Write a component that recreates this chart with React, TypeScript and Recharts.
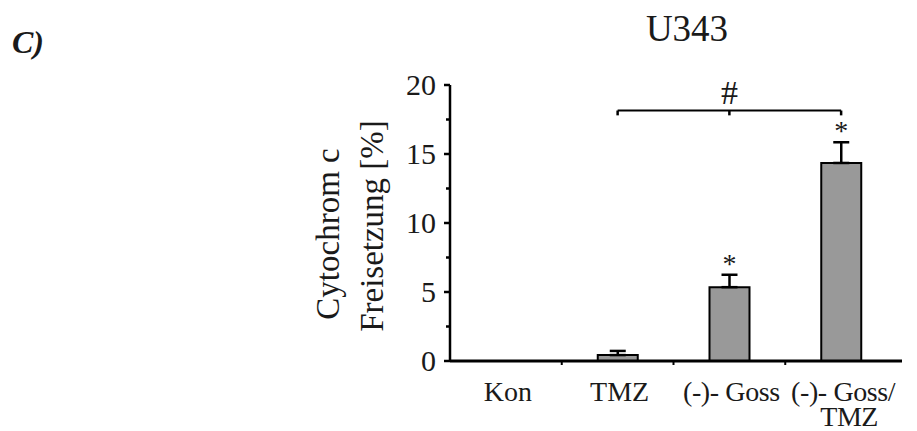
import {
  BarChart, Bar, XAxis, YAxis, ErrorBar, ReferenceLine, ReferenceDot,
} from 'recharts'

const categories = ['Kon', 'TMZ', '(-)- Goss', '(-)- Goss/TMZ']
const means = [0, 0.43, 5.35, 14.35]
const errors = [0, 0.3, 0.9, 1.5]
const stars = ['', '', '*', '*']
const yTicks = [0, 2.5, 5, 7.5, 10, 12.5, 15, 17.5, 20]
const bracketFrom = 'TMZ'
const bracketMid = '(-)- Goss'
const bracketTo = '(-)- Goss/TMZ'
const bracketY = 18.15

const FONT = '"Liberation Serif", "Times New Roman", serif'
const INK = '#1a1a1a'

const W = 917
const H = 431
const BAND = (902 - 5 - 450) / categories.length

const data = categories.map((name, i) => ({
  name,
  value: means[i],
  err: [0, errors[i]],
  top: means[i] + errors[i],
  star: stars[i],
}))

function YTick(props: any) {
  const { x, y, payload } = props
  const major = payload.value % 5 === 0
  return (
    <g>
      <line x1={x - (major ? 6 : 4)} x2={x} y1={y} y2={y} stroke="#000" strokeWidth={2.5} />
      {major && (
        <text x={x - 14} y={y + 10} textAnchor="end" fontFamily={FONT} fontSize={30} fill={INK}>
          {payload.value}
        </text>
      )}
    </g>
  )
}

function XTick(props: any) {
  const { x, y, payload, index } = props
  const label: string = payload.value
  const cut = label.indexOf('/')
  const lines = cut >= 0 ? [label.slice(0, cut + 1), label.slice(cut + 1)] : [label]
  return (
    <g>
      {index < categories.length - 1 && (
        <line x1={x + BAND / 2} x2={x + BAND / 2} y1={y} y2={y + 4} stroke="#000" strokeWidth={2} />
      )}
      <text y={y + 40} textAnchor="middle" fontFamily={FONT} fontSize={28}
        letterSpacing={label.startsWith('(') ? -0.4 : 0} fill={INK}>
        {lines.map((l, i) => (
          <tspan key={i} x={x + (i > 0 ? 8 : 2)} dy={i > 0 ? 25 : 0}>{l}</tspan>
        ))}
      </text>
    </g>
  )
}

export default function App() {
  return (
    <div style={{ width: W, height: H, position: 'relative', background: '#fff' }}>
      <style>{`body{margin:0}`}</style>
      <BarChart width={W} height={H} data={data} margin={{ top: 85, right: 15, left: 390, bottom: 0 }}>
        <text x={12} y={53} fontFamily={FONT} fontSize={32} fontWeight="bold" fontStyle="italic" fill={INK}>C)</text>
        <text x={687} y={41} textAnchor="middle" fontFamily={FONT} fontSize={37} fill={INK}>U343</text>
        <text transform="translate(339,234) rotate(-90)" textAnchor="middle" fontFamily={FONT} fontSize={33} fill={INK}>
          Cytochrom c
        </text>
        <text transform="translate(383,226) rotate(-90)" textAnchor="middle" fontFamily={FONT} fontSize={33} fill={INK}>
          Freisetzung [%]
        </text>
        <XAxis dataKey="name" height={70} tickSize={0} tickMargin={0} tick={<XTick />}
          axisLine={{ stroke: '#000', strokeWidth: 3 }} padding={{ left: 0, right: 5 }} interval={0} />
        <YAxis width={60} domain={[0, 20]} ticks={yTicks} tickSize={0} tickMargin={0} tick={<YTick />}
          axisLine={{ stroke: '#000', strokeWidth: 2.5 }} interval={0} />
        <Bar dataKey="value" fill="#999999" stroke="#000" strokeWidth={2} barSize={40} isAnimationActive={false}>
          <ErrorBar dataKey="err" width={8} stroke="#000" strokeWidth={2.5} direction="y" isAnimationActive={false} />
        </Bar>
        <ReferenceLine segment={[{ x: bracketFrom, y: bracketY }, { x: bracketTo, y: bracketY }]}
          stroke="#000" strokeWidth={2} />
        {[bracketFrom, bracketMid, bracketTo].map(c => (
          <ReferenceLine key={c} segment={[{ x: c, y: bracketY }, { x: c, y: bracketY - 0.35 }]}
            stroke="#000" strokeWidth={2.5} />
        ))}
        <ReferenceDot x={bracketMid} y={bracketY} r={0} stroke="none"
          label={{ value: '#', position: 'top', offset: 7, fontFamily: FONT, fontSize: 34, fill: INK }} />
        {data.filter(d => d.star).map(d => (
          <ReferenceDot key={d.name} x={d.name} y={d.top} r={0} stroke="none"
            label={{ value: d.star, position: 'top', offset: 2, fontFamily: FONT, fontSize: 28, fill: INK }} />
        ))}
      </BarChart>
    </div>
  )
}
